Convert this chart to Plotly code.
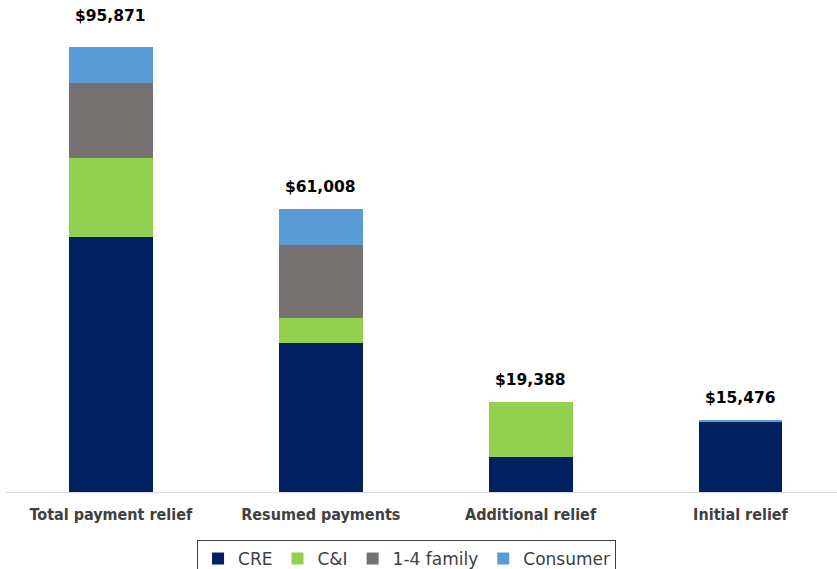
import plotly.graph_objects as go

categories = ["Total payment relief", "Resumed payments", "Additional relief", "Initial relief"]
cre = [54940, 32000, 7540, 15260]
ci = [17020, 5380, 11848, 0]
family = [16160, 15900, 0, 0]
consumer = [7751, 7728, 0, 216]
totals = [95871, 61008, 19388, 15476]
total_labels = ["$95,871", "$61,008", "$19,388", "$15,476"]

series = [
    ("CRE", cre, "#002060"),
    ("C&I", ci, "#92D050"),
    ("1-4 family", family, "#767171"),
    ("Consumer", consumer, "#5B9BD5"),
]

fig = go.Figure()
for name, vals, color in series:
    fig.add_trace(go.Bar(
        x=categories, y=vals, name=name, width=0.40,
        marker=dict(color=color, line=dict(width=0)),
        hoverinfo="skip",
    ))

for i, (cat, tot, lab) in enumerate(zip(categories, totals, total_labels)):
    fig.add_annotation(
        x=cat, y=tot, text=lab, showarrow=False, yanchor="bottom",
        yshift=20 if i == 0 else 11,
        font=dict(family="DejaVu Sans", size=15.5, color="#000000", weight="bold"),
    )

fig.update_layout(
    barmode="stack",
    width=837, height=569,
    margin=dict(l=6, r=0, t=10, b=77, autoexpand=False),
    plot_bgcolor="white", paper_bgcolor="white",
    showlegend=True,
    legend=dict(
        orientation="h", x=0.482, xanchor="center",
        yref="container", y=0.051, yanchor="top",
        bordercolor="#404040", borderwidth=1,
        font=dict(family="DejaVu Sans", size=17, color="#404040"),
        traceorder="normal", itemclick=False,
    ),
    xaxis=dict(
        range=[-0.5, 3.46], showgrid=False, showline=True, linecolor="#D9D9D9",
        linewidth=1, ticks="", ticklabelstandoff=8, automargin=False,
        tickfont=dict(family="DejaVu Sans Condensed", size=16, color="#404040", weight="bold"),
    ),
    yaxis=dict(range=[0, 103830], visible=False, showgrid=False, automargin=False),
)

fig.write_html("out.html")
